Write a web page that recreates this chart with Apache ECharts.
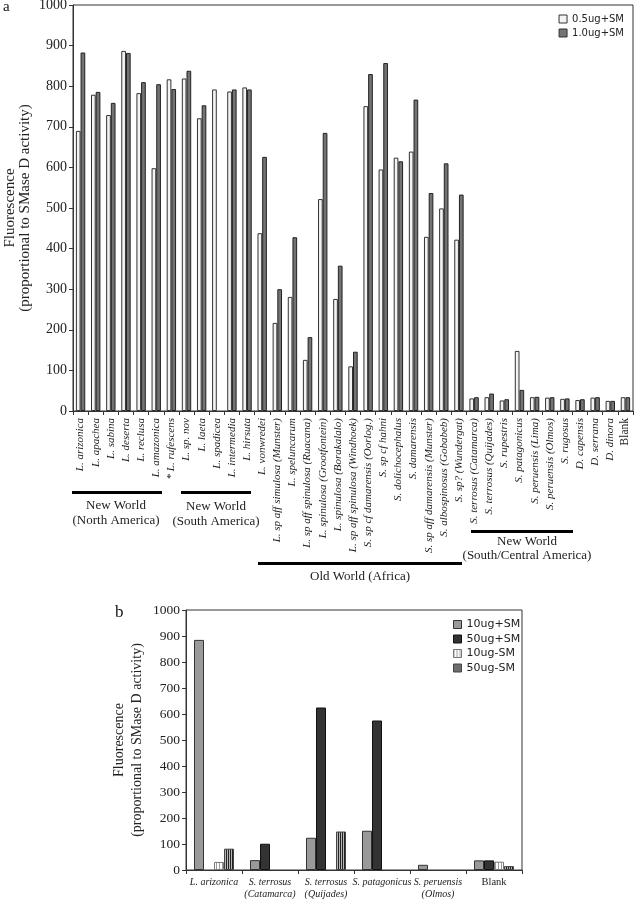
<!DOCTYPE html>
<html><head><meta charset="utf-8">
<script src="https://cdn.jsdelivr.net/npm/echarts@6/dist/echarts.min.js"></script>
<style>html,body{margin:0;padding:0;background:#fff}#c{width:635px;height:899px}</style>
</head><body><div id="c"></div>
<script>
// ---- Panel a data ----
const topCategories = ["L. arizonica","L. apachea","L. sabina","L. deserta","L. reclusa","L. amazonica","* L. rufescens","L. sp. nov","L. laeta","L. spadicea","L. intermedia","L. hirsuta","L. vonwredei","L. sp aff simulosa (Munster)","L. speluncarum","L. sp aff spinulosa (Ruacana)","L. spinulosa (Grootfontein)","L. spinulosa (Borakalalo)","L. sp aff spinulosa (Windhoek)","S. sp cf damarensis (Oorlog.)","S. sp cf hahni","S. dolichocephalus","S. damarensis","S. sp aff damarensis (Munster)","S. albospinosus (Gobabeb)","S. sp? (Wundergat)","S. terrosus (Catamarca)","S. terrosus (Quijades)","S. rupestris","S. patagonicus","S. peruensis (Lima)","S. peruensis (Olmos)","S. rugosus","D. capensis","D. serrana","D. dinora","Blank"];
const topLow = [690,779,729,887,783,598,817,819,721,792,787,797,438,217,281,126,522,276,110,751,595,624,639,429,499,422,31,34,26,148,34,33,30,27,33,25,34];
const topHigh = [883,786,759,882,810,805,793,838,753,null,792,792,626,300,428,182,685,358,146,830,857,615,767,537,610,533,34,43,29,52,35,34,31,29,34,25,34];
const topSeriesNames = ["0.5ug+SM","1.0ug+SM"];

// ---- Panel b data ----
const botCategories = ["L. arizonica","S. terrosus\n(Catamarca)","S. terrosus\n(Quijades)","S. patagonicus","S. peruensis\n(Olmos)","Blank"];
const bot10Plus = [885,38,124,151,20,37];
const bot50Plus = [null,101,625,575,null,37];
const bot10Minus = [31,null,null,null,null,32];
const bot50Minus = [82,null,148,null,null,15];
const botSeriesNames = ["10ug+SM","50ug+SM","10ug-SM","50ug-SM"];

const yMin = 0, yMax = 1000, yStep = 100;

function stripe(bg, fg, w){
  const c = document.createElement('canvas');
  c.width = w; c.height = 4;
  const g = c.getContext('2d');
  g.fillStyle = bg; g.fillRect(0,0,w,4);
  g.fillStyle = fg; g.fillRect(0,0,1,4);
  return {image: c, repeat: 'repeat'};
}

const SERIF = 'Liberation Serif';
const SANS = 'DejaVu Sans';

function catLabel(v){
  if (v === 'Blank') return '{n|Blank}';
  return v.split('\n').map(s => '{i|' + s + '}').join('\n');
}

const style10p = {color: '#9a9a9a', borderColor: '#333', borderWidth: 1};
const style50p = {color: '#333333', borderColor: '#111', borderWidth: 1};
const style10m = {color: stripe('#ffffff', '#9a9a9a', 3), borderColor: '#777', borderWidth: 1};
const style50m = {color: stripe('#b8b8b8', '#222222', 2), borderColor: '#444', borderWidth: 1};

const chart = echarts.init(document.getElementById('c'), null, {renderer:'canvas'});
const option = {
  animation: false,
  backgroundColor: '#fff',
  grid: [
    {left: 73, top: 5, width: 560, height: 406, show: true, borderColor: '#333', borderWidth: 1, containLabel: false, outerBoundsMode: 'none'},
    {left: 186, top: 610, width: 336, height: 260, show: true, borderColor: '#333', borderWidth: 1, containLabel: false, outerBoundsMode: 'none'}
  ],
  legend: [
    {data: topSeriesNames, orient: 'vertical', right: 6, top: 9, itemWidth: 8, itemHeight: 8, itemGap: 4,
     icon: 'rect', textStyle: {fontFamily: SANS, fontSize: 10, color: '#222'}, itemStyle: {borderColor: '#333', borderWidth: 1}},
    {data: [
       {name: botSeriesNames[0], itemStyle: style10p},
       {name: botSeriesNames[1], itemStyle: style50p},
       {name: botSeriesNames[2], itemStyle: style10m},
       {name: botSeriesNames[3], itemStyle: style50m}],
     orient: 'vertical', left: 448, top: 614, itemWidth: 8, itemHeight: 8, itemGap: 3.5,
     icon: 'rect', textStyle: {fontFamily: SANS, fontSize: 11, color: '#222'}}
  ],
  xAxis: [
    {type: 'category', gridIndex: 0, data: topCategories,
     axisLine: {lineStyle: {color: '#333', width: 1}},
     axisTick: {show: true, length: 4, lineStyle: {color: '#333'}},
     axisLabel: {interval: 0, rotate: 90, margin: 7, formatter: catLabel,
       rich: {i: {fontFamily: SERIF, fontStyle: 'italic', fontSize: 11, color: '#222'},
              n: {fontFamily: SERIF, fontSize: 11.5, color: '#222'}}}},
    {type: 'category', gridIndex: 1, data: botCategories,
     axisLine: {lineStyle: {color: '#333', width: 1}},
     axisTick: {show: true, length: 4, lineStyle: {color: '#333'}},
     axisLabel: {interval: 0, margin: 6, formatter: catLabel,
       rich: {i: {fontFamily: SERIF, fontStyle: 'italic', fontSize: 10, color: '#222', lineHeight: 12},
              n: {fontFamily: SERIF, fontSize: 10.5, color: '#222', lineHeight: 12}}}}
  ],
  yAxis: [
    {type: 'value', gridIndex: 0, min: yMin, max: yMax, interval: yStep,
     splitLine: {show: false},
     axisLine: {show: true, lineStyle: {color: '#333'}},
     axisTick: {show: true, length: 4, lineStyle: {color: '#333'}},
     axisLabel: {fontFamily: SERIF, fontSize: 14, color: '#222', margin: 6, formatter: v => String(v)},
     name: 'Fluorescence\n(proportional to SMase D activity)', nameLocation: 'middle', nameRotate: 90, nameGap: 40,
     nameMoveOverlap: false,
     nameTextStyle: {fontFamily: SERIF, fontSize: 15, color: '#222', lineHeight: 15}},
    {type: 'value', gridIndex: 1, min: yMin, max: yMax, interval: yStep,
     splitLine: {show: false},
     axisLine: {show: true, lineStyle: {color: '#333'}},
     axisTick: {show: true, length: 4, lineStyle: {color: '#333'}},
     axisLabel: {fontFamily: SERIF, fontSize: 13.5, color: '#222', margin: 6, formatter: v => String(v)},
     name: 'Fluorescence\n(proportional to SMase D activity)', nameLocation: 'middle', nameRotate: 90, nameGap: 40,
     nameMoveOverlap: false,
     nameTextStyle: {fontFamily: SERIF, fontSize: 14, color: '#222', lineHeight: 18}}
  ],
  series: [
    {name: topSeriesNames[0], type: 'bar', xAxisIndex: 0, yAxisIndex: 0, data: topLow, barWidth: '31%', barGap: '0%',
     itemStyle: {color: '#f3f3f3', borderColor: '#333', borderWidth: 1}},
    {name: topSeriesNames[1], type: 'bar', xAxisIndex: 0, yAxisIndex: 0, data: topHigh, barWidth: '31%', barGap: '0%',
     itemStyle: {color: '#737373', borderColor: '#222', borderWidth: 1}},
    {name: botSeriesNames[0], type: 'bar', xAxisIndex: 1, yAxisIndex: 1, data: bot10Plus, barWidth: 10, barGap: '0%', itemStyle: style10p},
    {name: botSeriesNames[1], type: 'bar', xAxisIndex: 1, yAxisIndex: 1, data: bot50Plus, barWidth: 10, barGap: '0%', itemStyle: style50p},
    {name: botSeriesNames[2], type: 'bar', xAxisIndex: 1, yAxisIndex: 1, data: bot10Minus, barWidth: 10, barGap: '0%', itemStyle: style10m},
    {name: botSeriesNames[3], type: 'bar', xAxisIndex: 1, yAxisIndex: 1, data: bot50Minus, barWidth: 10, barGap: '0%', itemStyle: style50m}
  ],
  graphic: [
    {type: 'text', left: 3, top: 0, style: {text: 'a', font: '15px "Liberation Serif"', fill: '#111'}},
    {type: 'text', left: 115, top: 604, style: {text: 'b', font: '17px "Liberation Serif"', fill: '#111'}},
    {type: 'rect', shape: {x: 72, y: 491, width: 90, height: 3}, style: {fill: '#000'}},
    {type: 'text', x: 116, y: 498, style: {text: 'New World\n(North America)', font: '13px "Liberation Serif"', fill: '#222', align: 'center', lineHeight: 15}},
    {type: 'rect', shape: {x: 181, y: 491, width: 70, height: 3}, style: {fill: '#000'}},
    {type: 'text', x: 216, y: 499, style: {text: 'New World\n(South America)', font: '13px "Liberation Serif"', fill: '#222', align: 'center', lineHeight: 15}},
    {type: 'rect', shape: {x: 258, y: 562, width: 204, height: 3}, style: {fill: '#000'}},
    {type: 'text', x: 360, y: 570, style: {text: 'Old World (Africa)', font: '13px "Liberation Serif"', fill: '#222', align: 'center'}},
    {type: 'rect', shape: {x: 471, y: 530, width: 102, height: 3}, style: {fill: '#000'}},
    {type: 'text', x: 527, y: 535, style: {text: 'New World\n(South/Central America)', font: '13px "Liberation Serif"', fill: '#222', align: 'center', lineHeight: 14}}
  ]
};
chart.setOption(option);
</script>
</body></html>
